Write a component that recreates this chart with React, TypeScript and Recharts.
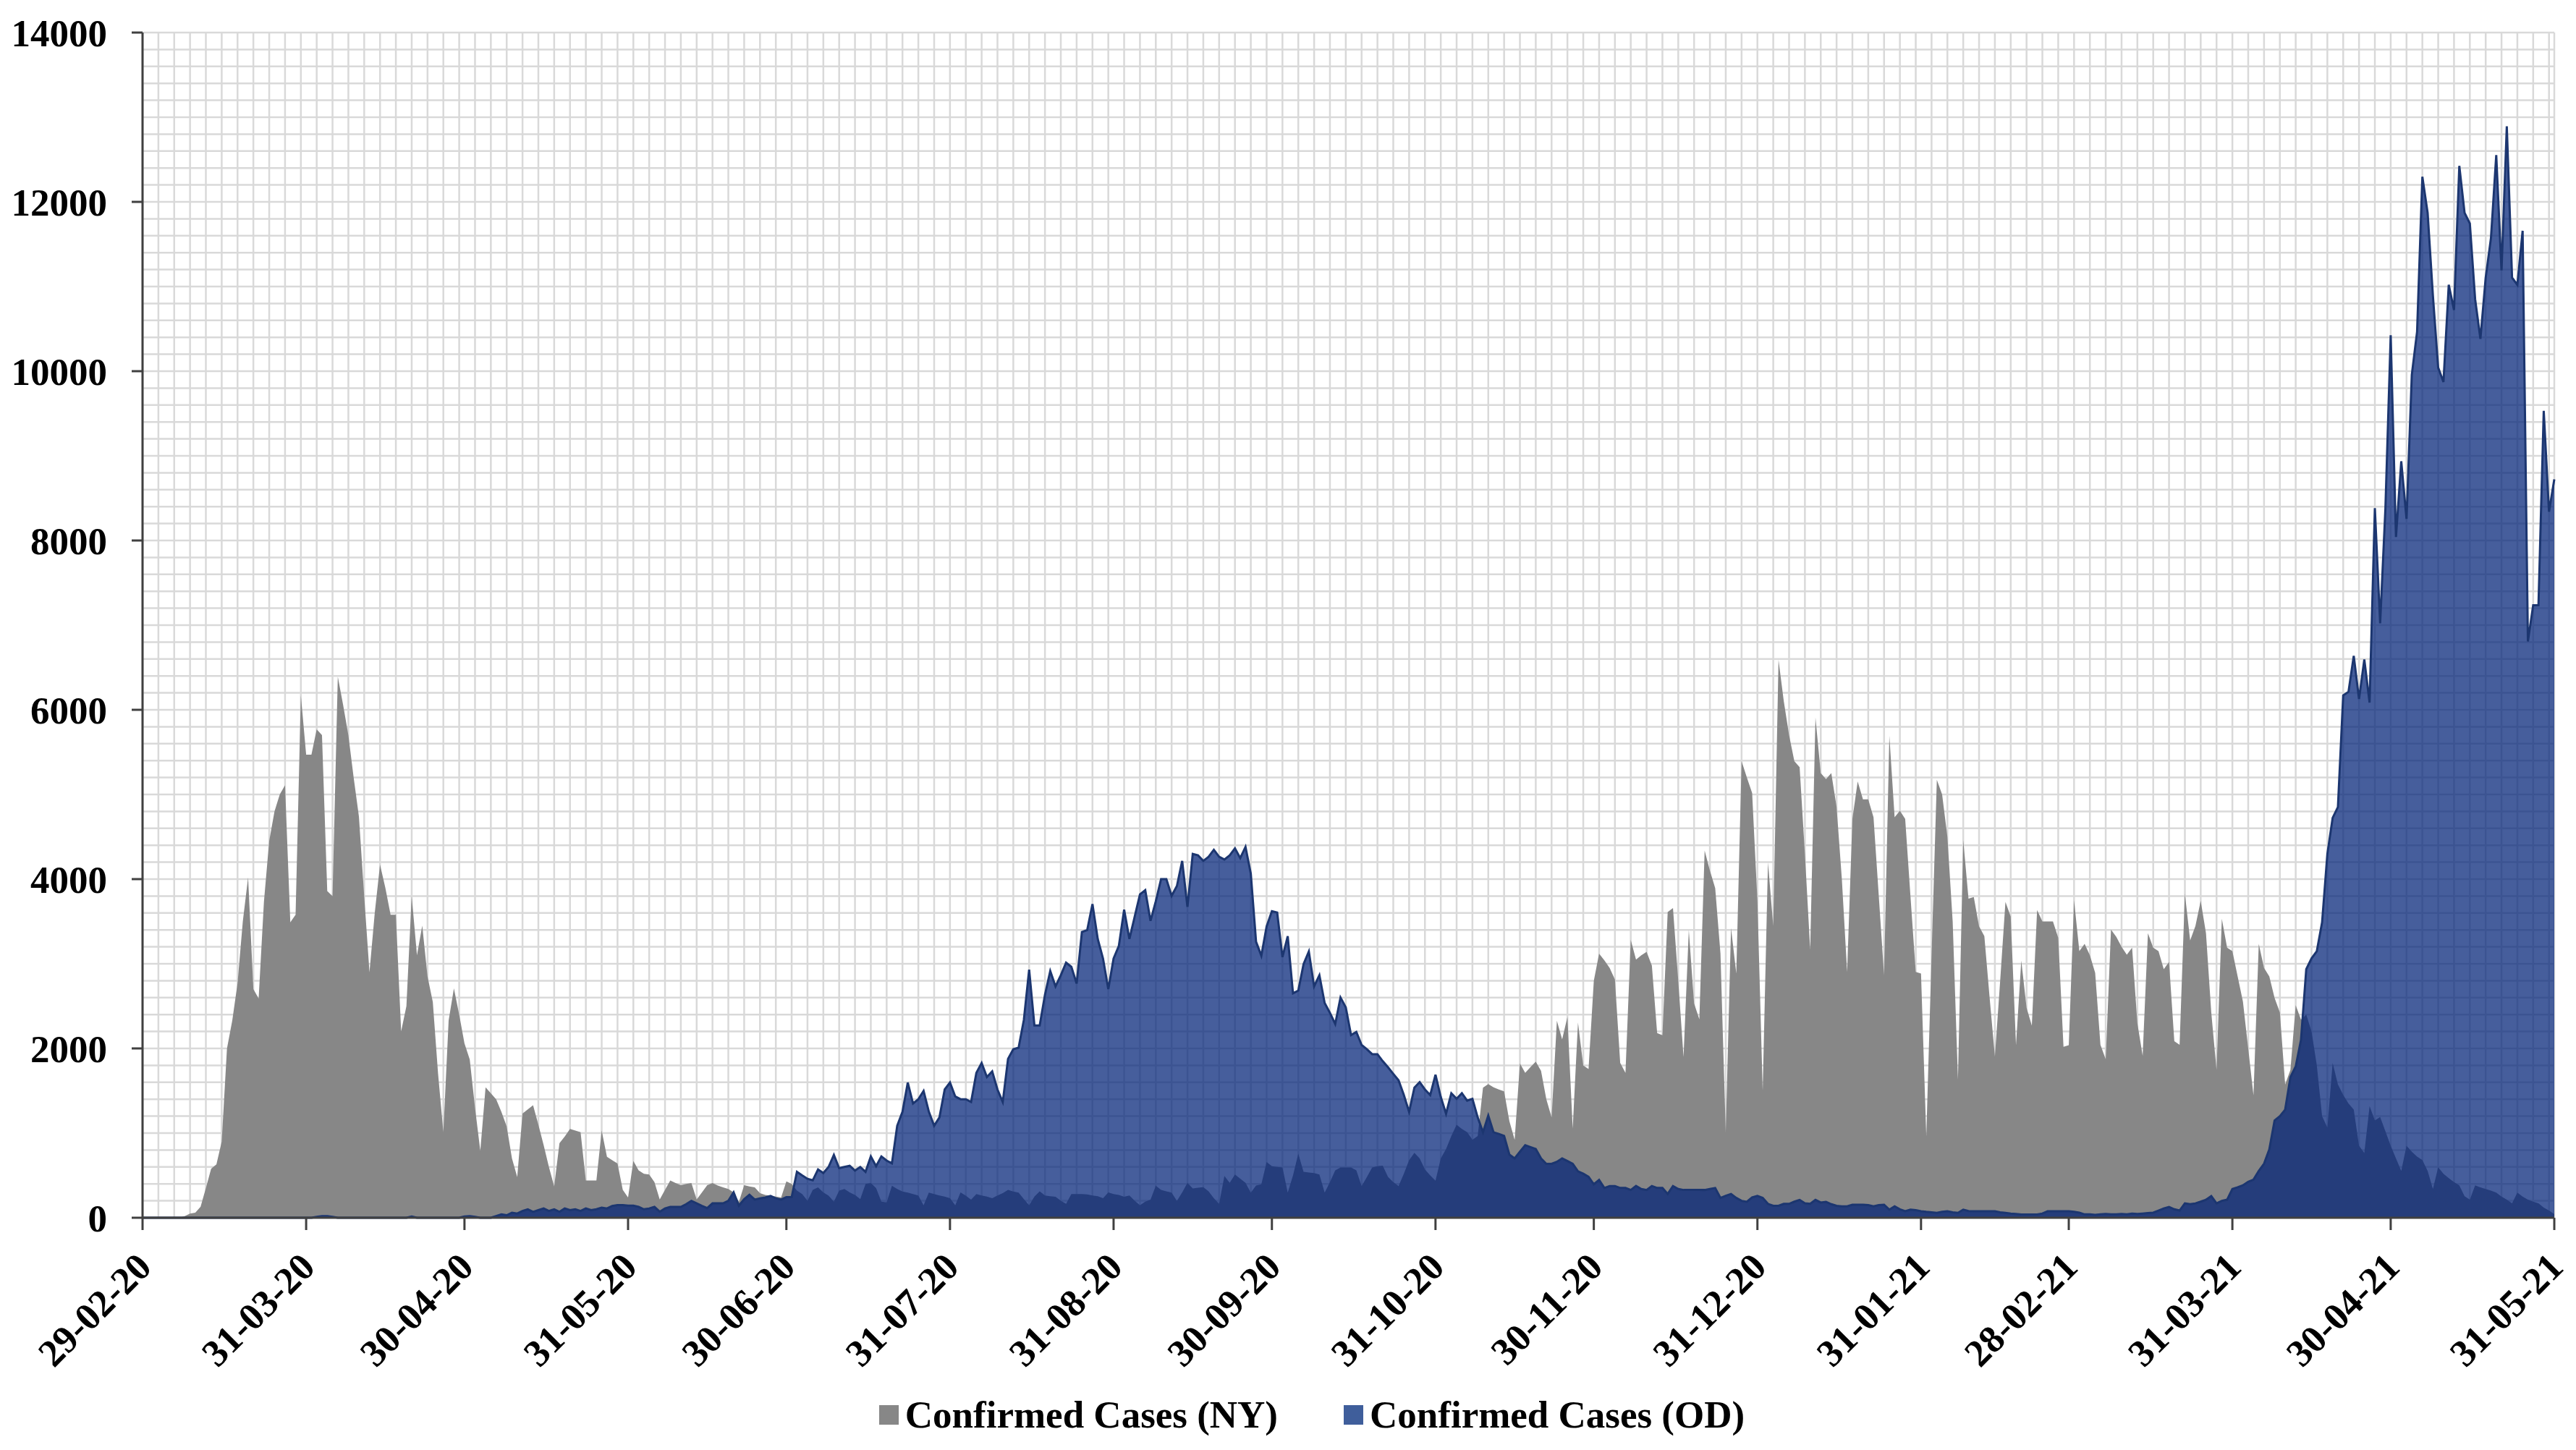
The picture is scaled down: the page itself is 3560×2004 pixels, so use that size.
import React from 'react';
import { AreaChart, Area, XAxis, YAxis, CartesianGrid, Legend } from 'recharts';

// day index 0 = 29-02-20, last index = 31-05-21
const tickDays = [0, 31, 61, 92, 122, 153, 184, 214, 245, 275, 306, 337, 365, 396, 426, 457];
const tickLabels = [
  '29-02-20', '31-03-20', '30-04-20', '31-05-20', '30-06-20', '31-07-20', '31-08-20', '30-09-20',
  '31-10-20', '30-11-20', '31-12-20', '31-01-21', '28-02-21', '31-03-21', '30-04-21', '31-05-21'
];
const yTicks = [0, 2000, 4000, 6000, 8000, 10000, 12000, 14000];
const seriesNames = ['Confirmed Cases (NY)', 'Confirmed Cases (OD)'];

// daily confirmed cases
const nyCases = [
  0, 0, 0, 0, 0, 0, 0, 0, 20, 50,
  60, 130, 350, 580, 630, 900, 2000, 2330, 2770, 3500,
  4020, 2700, 2590, 3730, 4450, 4800, 5000, 5110, 3490, 3580,
  6170, 5470, 5470, 5770, 5700, 3860, 3800, 6390, 6060, 5700,
  5200, 4740, 3800, 2900, 3600, 4170, 3900, 3580, 3580, 2200,
  2500, 3800, 3100, 3450, 2850, 2550, 1700, 1010, 2330, 2710,
  2400, 2060, 1870, 1300, 790, 1540, 1470, 1400, 1250, 1080,
  700, 480, 1230, 1280, 1330, 1100, 860, 600, 370, 880,
  960, 1050, 1030, 1010, 440, 440, 440, 1030, 720, 680,
  640, 330, 240, 670, 560, 520, 510, 420, 215, 330,
  440, 410, 385, 400, 410, 215, 300, 385, 410, 380,
  360, 340, 300, 185, 385, 370, 360, 290, 270, 260,
  250, 240, 430, 400, 320, 280, 200, 330, 360, 300,
  260, 190, 320, 340, 300, 270, 220, 400, 410, 350,
  190, 181, 379, 340, 310, 296, 280, 263, 148, 296,
  280, 263, 250, 230, 148, 300, 260, 214, 280, 263,
  250, 230, 263, 290, 329, 310, 296, 220, 148, 250,
  313, 263, 255, 247, 200, 165, 280, 280, 280, 275,
  263, 255, 230, 300, 280, 270, 247, 263, 200, 148,
  190, 214, 379, 330, 313, 296, 198, 300, 412, 346,
  355, 362, 313, 230, 165, 494, 412, 510, 461, 412,
  296, 380, 395, 659, 609, 600, 593, 296, 500, 757,
  543, 535, 527, 510, 296, 420, 560, 593, 593, 593,
  560, 373, 480, 593, 610, 615, 483, 420, 373, 520,
  680, 768, 700, 571, 500, 439, 700, 812, 966, 1098,
  1050, 1010, 922, 966, 1537, 1580, 1540, 1515, 1493, 1141,
  922, 1822, 1712, 1780, 1844, 1734, 1400, 1185, 2327, 2107,
  2371, 1054, 2305, 1800, 1756, 2800, 3119, 3040, 2950, 2814,
  1829, 1712, 3283, 3049, 3100, 3142, 2978, 2181, 2157, 3611,
  3658, 2800, 1899, 3400, 2533, 2345, 4338, 4100, 3893, 3119,
  1008, 3424, 2884, 5393, 5200, 5018, 3750, 1500, 4198, 3447,
  6589, 6100, 5700, 5393, 5323, 4300, 3166, 5909, 5253, 5182,
  5253, 4854, 4000, 2904, 4711, 5154, 4942, 4942, 4731, 3800,
  2865, 5692, 4731, 4808, 4711, 3800, 2904, 2885, 962, 3100,
  5173, 5000, 4500, 3500, 1635, 4461, 3769, 3788, 3442, 3327,
  2600, 1904, 2800, 3731, 3557, 2038, 3038, 2481, 2269, 3634,
  3500, 3500, 3500, 3308, 2019, 2038, 3750, 3149, 3234, 3100,
  2893, 2042, 1872, 3404, 3319, 3200, 3106, 3191, 2298, 1915,
  3361, 3191, 3149, 2936, 3021, 2085, 2042, 3830, 3276, 3447,
  3744, 3361, 2425, 1745, 3532, 3191, 3149, 2851, 2553, 2000,
  1447, 3234, 2950, 2851, 2596, 2425, 1574, 1745, 2510, 2340,
  2400, 2200, 1800, 1200, 1064, 1830, 1574, 1450, 1350, 1277,
  851, 766, 1319, 1149, 1191, 1021, 850, 700, 553, 851,
  780, 723, 681, 553, 340, 596, 520, 468, 420, 383,
  255, 213, 383, 360, 340, 320, 298, 250, 213, 170,
  298, 250, 213, 190, 170, 120, 85, 43
];

const odCases = [
  0, 0, 0, 0, 0, 0, 0, 0, 0, 0,
  0, 0, 0, 0, 0, 0, 0, 0, 0, 0,
  0, 0, 0, 0, 0, 0, 0, 0, 0, 0,
  0, 0, 0, 10, 20, 20, 10, 0, 0, 0,
  0, 0, 0, 0, 0, 0, 0, 0, 0, 0,
  0, 15, 0, 0, 0, 0, 0, 0, 0, 0,
  0, 15, 20, 10, 0, 0, 0, 20, 40, 30,
  60, 50, 80, 100, 70, 90, 110, 80, 100, 70,
  110, 90, 100, 80, 110, 90, 100, 120, 110, 140,
  150, 150, 143, 143, 128, 100, 110, 128, 71, 110,
  128, 128, 128, 160, 200, 170, 140, 114, 170, 170,
  170, 200, 300, 143, 220, 271, 214, 228, 240, 257,
  230, 214, 243, 243, 542, 500, 460, 442, 571, 528,
  600, 742, 585, 600, 614, 557, 600, 542, 724, 609,
  724, 675, 642, 1087, 1251, 1597, 1350, 1400, 1498, 1251,
  1087, 1185, 1515, 1597, 1432, 1400, 1400, 1367, 1712, 1828,
  1663, 1729, 1515, 1367, 1877, 1992, 2009, 2338, 2931, 2272,
  2272, 2634, 2914, 2733, 2865, 3013, 2964, 2766, 3375, 3398,
  3705, 3293, 3062, 2700, 3062, 3211, 3639, 3293, 3556, 3820,
  3869, 3507, 3738, 4001, 4001, 3803, 3919, 4215, 3672, 4297,
  4281, 4215, 4264, 4347, 4264, 4232, 4281, 4363, 4248, 4380,
  4067, 3260, 3095, 3441, 3622, 3606, 3079, 3326, 2651, 2684,
  2997, 3145, 2733, 2865, 2536, 2420, 2289, 2602, 2486, 2157,
  2195, 2041, 1990, 1932, 1932, 1850, 1778, 1700, 1624, 1450,
  1251, 1537, 1602, 1515, 1449, 1690, 1427, 1229, 1471, 1405,
  1471, 1383, 1405, 1185, 1010, 1207, 1010, 990, 966, 746,
  702, 780, 856, 834, 812, 700, 637, 637, 660, 702,
  670, 637, 549, 520, 483, 395, 446, 352, 375, 375,
  352, 352, 328, 375, 340, 328, 375, 352, 352, 281,
  375, 340, 328, 328, 328, 330, 328, 340, 352, 234,
  260, 281, 234, 200, 188, 240, 258, 234, 164, 141,
  141, 164, 164, 190, 211, 170, 164, 211, 180, 188,
  160, 141, 135, 135, 154, 154, 154, 150, 135, 150,
  154, 96, 135, 100, 77, 96, 90, 77, 70, 65,
  58, 70, 77, 65, 58, 96, 80, 77, 77, 77,
  77, 77, 65, 58, 50, 45, 38, 38, 38, 38,
  50, 77, 77, 77, 77, 77, 70, 60, 40, 40,
  35, 40, 45, 40, 40, 45, 40, 50, 45, 50,
  55, 60, 85, 110, 128, 100, 85, 170, 160, 170,
  190, 213, 255, 170, 200, 213, 340, 360, 383, 425,
  450, 553, 638, 808, 1149, 1200, 1277, 1660, 1787, 2100,
  2936, 3064, 3149, 3489, 4298, 4723, 4851, 6170, 6212, 6638,
  6127, 6595, 6085, 8382, 7021, 8382, 10425, 8042, 8936, 8255,
  9957, 10467, 12297, 11871, 10893, 10042, 9872, 11020, 10723, 12425,
  11871, 11744, 10851, 10382, 11105, 11574, 12552, 11191, 12893, 11105,
  11020, 11659, 6808, 7234, 7234, 9531, 8340, 8723
];

const FONT = '"Liberation Serif", "Times New Roman", serif';
const FONT_SIZE = 53;
const NY_COLOR = '#878787';
const OD_FILL = '#002176';
const OD_STROKE = '#1c3670';
const legendColors = [NY_COLOR, '#3f5e9b'];

const lastDay = tickDays[tickDays.length - 1];
const yMax = yTicks[yTicks.length - 1];
const data = nyCases.map((ny, day) => ({ day, ny, od: odCases[day] }));

// minor grid: every 3 days, every 200 cases
const gridDays: number[] = [];
for (let d = 0; d <= lastDay; d += 3) gridDays.push(d);
gridDays.push(lastDay);
const gridValues: number[] = [];
for (let v = 0; v <= yMax; v += 200) gridValues.push(v);

const vGrid = ({ offset }: any) => gridDays.map((d) => offset.left + (d / lastDay) * offset.width);
const hGrid = ({ offset }: any) => gridValues.map((v) => offset.top + offset.height * (1 - v / yMax));

const DateTick = ({ x, y, payload }: any) => {
  const label = tickLabels[tickDays.indexOf(payload.value)];
  const tx = x + 15;
  const ty = y + 52;
  return (
    <text
      x={tx}
      y={ty}
      textAnchor="end"
      transform={`rotate(-45, ${tx}, ${ty})`}
      fontFamily={FONT}
      fontWeight="bold"
      fontSize={FONT_SIZE}
      fill="#000"
    >
      {label}
    </text>
  );
};

const LegendBox = () => (
  <div
    style={{
      display: 'flex',
      justifyContent: 'center',
      alignItems: 'center',
      height: 70,
      paddingLeft: 66,
      fontFamily: FONT,
      fontWeight: 'bold',
      fontSize: FONT_SIZE,
      color: '#000',
    }}
  >
    {seriesNames.map((name, i) => (
      <div key={name} style={{ display: 'flex', alignItems: 'center', marginLeft: i ? 91 : 0 }}>
        <span style={{ display: 'inline-block', width: 27, height: 27, background: legendColors[i], marginRight: 9 }} />
        <span>{name}</span>
      </div>
    ))}
  </div>
);

const App = () => (
  <div style={{ position: 'absolute', left: 0, top: 0, background: '#fff' }}>
    <AreaChart width={3560} height={2004} data={data} margin={{ top: 45, right: 30, bottom: 14, left: 0 }}>
      <CartesianGrid
        stroke="#d9d9d9"
        strokeWidth={2.5}
        verticalCoordinatesGenerator={vGrid}
        horizontalCoordinatesGenerator={hGrid}
      />
      <XAxis
        type="number"
        dataKey="day"
        domain={[0, lastDay]}
        ticks={tickDays}
        interval={0}
        height={237}
        tickSize={17}
        tickMargin={2}
        tick={<DateTick />}
        axisLine={{ stroke: '#404040', strokeWidth: 3 }}
        tickLine={{ stroke: '#404040', strokeWidth: 3 }}
      />
      <YAxis
        domain={[0, yMax]}
        ticks={yTicks}
        interval={0}
        width={197}
        tickSize={15}
        tickMargin={34}
        tick={{ fontSize: FONT_SIZE, fontWeight: 'bold', fill: '#000', fontFamily: FONT }}
        axisLine={{ stroke: '#404040', strokeWidth: 3 }}
        tickLine={{ stroke: '#404040', strokeWidth: 3 }}
      />
      <Area
        type="linear"
        dataKey="ny"
        name={seriesNames[0]}
        stroke="none"
        fill={NY_COLOR}
        fillOpacity={1}
        dot={false}
        activeDot={false}
        isAnimationActive={false}
      />
      <Area
        type="linear"
        dataKey="od"
        name={seriesNames[1]}
        stroke={OD_STROKE}
        strokeWidth={3}
        fill={OD_FILL}
        fillOpacity={0.725}
        dot={false}
        activeDot={false}
        isAnimationActive={false}
      />
      <Legend verticalAlign="bottom" height={70} content={() => <LegendBox />} wrapperStyle={{ left: 0, width: 3560 }} />
    </AreaChart>
  </div>
);

export default App;
